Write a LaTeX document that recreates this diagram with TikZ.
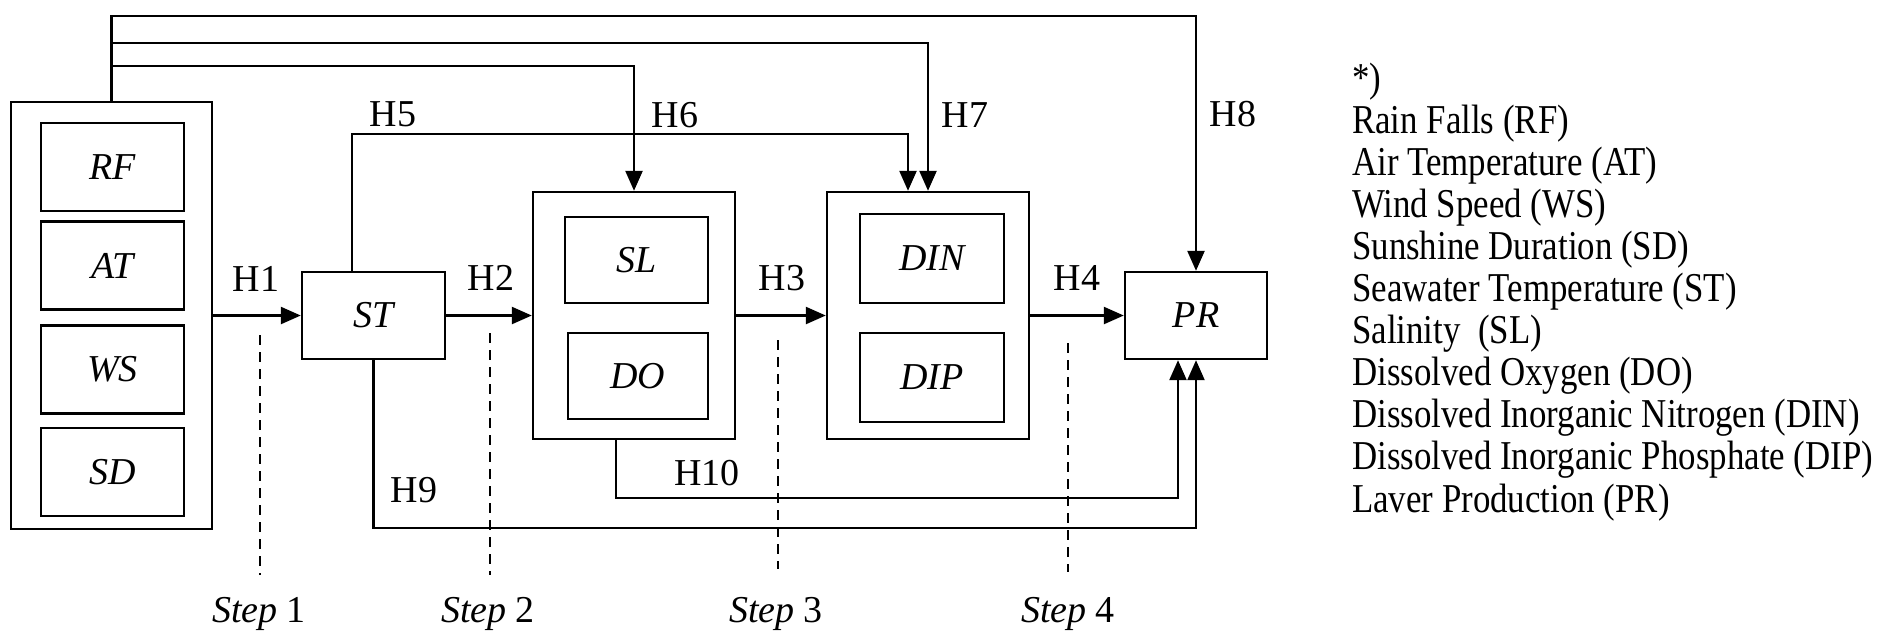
\documentclass[tikz,border=0pt]{standalone}
\usepackage{fontspec}
\setmainfont{Liberation Serif}
\newfontfamily\legendfont[FakeStretch=0.85]{Liberation Serif}
\usetikzlibrary{arrows.meta}
\begin{document}
\begin{tikzpicture}[x=0.5pt,y=-0.5pt,
  line width=1.2pt,
  box/.style={draw, inner sep=0pt, minimum width=71.5pt, minimum height=44pt, font=\fontsize{19}{22}\selectfont\itshape},
  group/.style={draw, inner sep=0pt, minimum width=101pt, minimum height=123.5pt},
  arr/.style={-{Triangle[length=10pt,width=8.5pt]}},
  hlab/.style={font=\fontsize{19}{22}\selectfont, inner sep=0pt},
  stepline/.style={line width=1pt, dash pattern=on 5pt off 3.5pt},
  steplab/.style={font=\fontsize{19}{22}\selectfont, inner sep=0pt, anchor=base},
  legend/.style={font=\legendfont\fontsize{20.5}{24}\selectfont, inner sep=0pt, anchor=base west}]
\useasboundingbox (0,0) rectangle (1903,634);

% boxes
\node[draw, inner sep=0pt, minimum width=100.5pt, minimum height=213.5pt] (met) at (111.5,315.5) {};
\node[box] (RF) at (112.5,167) {RF};
\node[box] (AT) at (112.5,265.5) {AT};
\node[box] (WS) at (112.5,369.5) {WS};
\node[box] (SD) at (112.5,472) {SD};
\node[box, minimum height=43.5pt] (ST) at (373.5,315.5) {ST};
\node[group] (SLDO) at (634,315.5) {};
\node[box, minimum height=43pt] (SL) at (636.5,260) {SL};
\node[box, minimum width=70pt, minimum height=43pt] (DO) at (638,376) {DO};
\node[group] (DINDIP) at (928,315.5) {};
\node[box, minimum width=72pt, minimum height=44.5pt] (DIN) at (932,258.5) {DIN};
\node[box, minimum width=72pt, minimum height=44.5pt] (DIP) at (932,377.5) {DIP};
\node[box, minimum width=71pt, minimum height=43.5pt] (PR) at (1196,315.5) {PR};

% main chain
\draw[arr] (met.east) -- (ST.west);
\draw[arr] (ST.east) -- (SLDO.west);
\draw[arr] (SLDO.east) -- (DINDIP.west);
\draw[arr] (DINDIP.east) -- (PR.west);

% top connectors
\draw[arr] (met.north) -- ++(0,-85) -| (PR.north);
\draw[arr] (met.north) -- ++(0,-58) -| (DINDIP.north);
\draw[arr] (met.north) -- ++(0,-35) -| (SLDO.north);
\draw[arr] ([xshift=-10.75pt]ST.north) -- ++(0,-137) -| ([xshift=-10pt]DINDIP.north);

% bottom connectors
\draw[arr] (ST.south) -- ++(0,168) -| (PR.south);
\draw[arr] ([xshift=-9pt]SLDO.south) -- ++(0,58) -| ([xshift=-9pt]PR.south);

% labels
\node[hlab] (h1) at (256,279) {H1};
\node[hlab] (h2) at (491,278) {H2};
\node[hlab] (h3) at (782,278) {H3};
\node[hlab] (h4) at (1077,278) {H4};
\node[hlab] (h5) at (393,114) {H5};
\node[hlab] (h6) at (675,115) {H6};
\node[hlab] (h7) at (965,115) {H7};
\node[hlab] (h8) at (1233,114) {H8};
\node[hlab] (h9) at (414,490) {H9};
\node[hlab] (h10) at (707,473) {H10};

% steps
\node[steplab] (s1) at (259,622) {\textit{Step} 1};
\node[steplab] (s2) at (488,622) {\textit{Step} 2};
\node[steplab] (s3) at (776,622) {\textit{Step} 3};
\node[steplab] (s4) at (1068,622) {\textit{Step} 4};
\draw[stepline] (260,335) -- (260,575);
\draw[stepline] (490,333) -- (490,575);
\draw[stepline] (778,340) -- (778,569);
\draw[stepline] (1068,343) -- (1068,572);

% legend
\foreach \t [count=\i from 0] in {{*)},{Rain Falls (RF)},{Air Temperature (AT)},{Wind Speed (WS)},{Sunshine Duration (SD)},{Seawater Temperature (ST)},{Salinity\ \ (SL)},{Dissolved Oxygen (DO)},{Dissolved Inorganic Nitrogen (DIN)},{Dissolved Inorganic Phosphate (DIP)},{Laver Production (PR)}}
  \node[legend] (leg\i) at (1351,91+42.1*\i) {\t};
\end{tikzpicture}
\end{document}
